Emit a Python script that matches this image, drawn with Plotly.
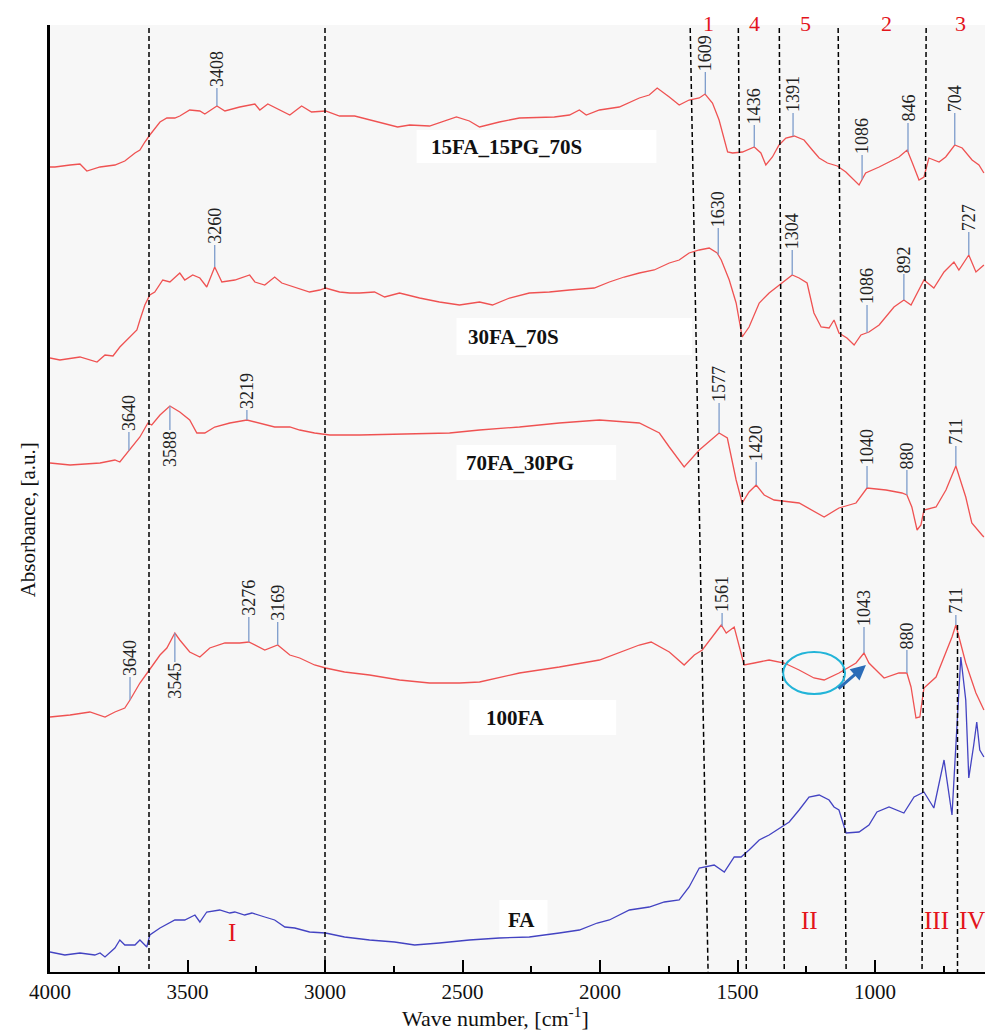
import numpy as np
import plotly.graph_objects as go

# ---------------- data (wavenumber, cm-1  /  absorbance, a.u. offset-stacked) ----------------
wn_15fa_15pg_70s = [4000,3982,3927,3891,3866,3818,3764,3728,3691,3673,3655,3637,3600,3575,3546,3528,3492,3455,3437,3393,
                    3364,3310,3255,3237,3208,3165,3128,3085,3049,2998,2947,2892,2838,2783,2736,2692,2620,2522,2475,2438,
                    2366,2293,2220,2166,2111,2075,2050,2002,1930,1857,1821,1792,1748,1712,1676,1639,1618,1591,1567,1549,
                    1536,1518,1482,1439,1415,1397,1373,1349,1324,1294,1258,1228,1203,1173,1137,1106,1058,1034,985,913,
                    883,864,840,822,804,767,743,710,683,647,622,604]
ab_15fa_15pg_70s = [805,805,807,808,801,805,807,811,819,822,830,837,850,854,854,856,862,861,858,866,
                    861,865,868,862,868,862,857,866,860,861,856,856,852,848,845,847,846,855,851,845,
                    850,854,855,855,857,862,857,862,865,874,877,884,875,867,872,874,878,869,852,832,
                    820,819,820,825,819,807,815,827,834,836,832,822,814,809,806,800,787,799,805,815,
                    822,809,792,795,814,810,815,827,824,812,807,799]

wn_30fa_70s = [4000,3964,3891,3829,3800,3771,3746,3709,3684,3673,3655,3637,3619,3590,3564,3528,3510,3481,3455,3430,
               3401,3375,3328,3274,3255,3219,3183,3157,3110,3056,3019,2998,2947,2910,2874,2820,2783,2729,2656,2584,
               2511,2438,2391,2329,2257,2184,2111,2021,1966,1912,1857,1803,1748,1712,1676,1639,1603,1574,1559,1530,
               1505,1483,1458,1421,1385,1349,1301,1276,1247,1222,1196,1167,1149,1131,1102,1076,1051,1022,985,931,
               895,869,822,786,749,713,695,659,633,604]
ab_30fa_70s = [614,612,615,610,617,616,625,635,642,652,667,677,680,692,690,699,692,697,694,685,
               705,690,692,697,690,687,695,689,685,680,682,684,680,679,679,680,675,679,674,670,
               667,670,667,674,679,680,682,684,690,695,699,702,709,712,719,722,724,719,712,692,
               669,635,645,669,679,687,697,694,689,659,645,644,652,639,634,627,637,640,647,665,
               672,667,692,684,700,710,702,717,700,707]

wn_70fa_30pg = [4000,3927,3818,3764,3746,3717,3673,3644,3630,3600,3564,3528,3492,3466,3437,3401,3346,3284,3237,3183,
                3128,3092,3038,2983,2874,2729,2547,2438,2293,2148,2002,1857,1784,1748,1694,1639,1567,1537,1505,1483,
                1458,1432,1403,1367,1276,1185,1131,1069,1029,960,902,884,866,847,833,822,778,742,706,670,
                648,611,604]
ab_70fa_30pg = [509,507,509,512,510,520,535,549,547,557,566,560,552,539,539,545,549,552,549,545,
                545,542,539,537,537,538,539,542,545,549,552,549,539,525,505,522,539,534,492,469,
                480,487,477,472,469,455,464,469,484,482,479,477,465,442,447,462,465,482,506,475,
                449,437,435]

wn_100fa = [4000,3927,3855,3800,3764,3728,3709,3673,3644,3600,3575,3546,3528,3492,3455,3419,3364,3310,3277,3219,
            3172,3128,3092,3038,2998,2929,2838,2729,2620,2511,2438,2293,2148,2002,1857,1814,1748,1694,1657,1628,
            1559,1541,1512,1476,1439,1385,1330,1276,1222,1185,1131,1094,1069,1040,1022,967,913,884,869,851,
            837,822,778,720,706,670,633,604]
ab_100fa = [255,257,260,255,260,264,272,289,300,317,324,339,332,320,315,324,329,329,330,322,
            327,317,314,307,304,300,297,292,289,289,290,299,305,312,327,330,320,307,317,322,
            347,339,345,307,309,312,309,302,294,292,299,305,309,319,309,294,299,299,285,254,
            255,284,295,335,347,309,279,262]

wn_fa = [4000,3946,3891,3837,3818,3800,3764,3746,3728,3691,3673,3648,3637,3600,3546,3510,3473,3455,3430,3383,
         3346,3328,3292,3266,3219,3183,3146,3110,3056,2998,2929,2838,2747,2674,2584,2475,2366,2257,2148,2075,
         2010,1966,1893,1821,1766,1712,1676,1639,1585,1548,1512,1487,1458,1421,1385,1356,1312,1276,1240,1203,
         1167,1149,1131,1105,1058,1022,993,949,895,858,822,786,749,720,695,688,670,659,641,630,
         619,604]
ab_fa = [20,17,19,17,19,15,24,32,27,27,32,25,37,44,52,52,57,50,60,62,
         59,60,57,59,55,52,45,44,40,39,35,32,30,27,29,32,34,35,39,42,
         49,52,62,65,70,72,85,104,107,100,115,115,122,132,137,142,150,162,175,177,
         172,165,162,139,140,147,160,165,159,175,180,164,212,157,272,315,272,194,227,250,
         222,215]

# peak labels: text, position (cm-1), label base level (a.u.)
peaks_15fa_15pg_70s = [("3408", 3393, 884), ("1609", 1617, 900), ("1436", 1439, 847), ("1391", 1298, 859),
                       ("1086", 1047, 817), ("846", 880, 849), ("704", 710, 859)]
peaks_30fa_70s = [("3260", 3401, 727), ("1630", 1570, 744), ("1304", 1301, 722), ("1086", 1029, 667),
                  ("892", 895, 698), ("727", 659, 740)]
peaks_70fa_30pg = [("3640", 3713, 540), ("3588", 3564, 542), ("3219", 3284, 562), ("1577", 1567, 569),
                   ("1420", 1432, 510), ("1040", 1029, 506), ("880", 884, 502), ("711", 706, 526)]
peaks_100fa = [("3640", 3709, 295), ("3545", 3546, 310), ("3276", 3277, 355), ("3169", 3172, 350),
               ("1561", 1556, 359), ("1043", 1040, 345), ("880", 884, 322), ("711", 706, 357)]

# band dividers (cm-1 at top / at bottom)
divider_top = [3640, 3000, 1672, 1497, 1348, 1134, 814]
divider_bottom = [3640, 3000, 1607, 1468, 1330, 1105, 829]
divider_iv = 700
divider_iv_top = 347

zone_numbers = ["1", "4", "5", "2", "3"]
zone_number_wn = [1607, 1439, 1251, 960, 688]
zone_roman = ["I", "II", "III", "IV"]
zone_roman_wn = [3339, 1240, 778, 648]
zone_roman_y = [40, 52, 52, 52]

series_names = ["15FA_15PG_70S", "30FA_70S", "70FA_30PG", "100FA", "FA"]
series_label_wn = [2620, 2482, 2491, 2420, 2337]
series_label_y = [825, 635, 509, 254, 52]
label_box_wn = [(2667, 1795), (2522, 1665), (2522, 1941), (2475, 1941), (2366, 2191)]
label_box_y = [(809, 842), (617, 654), (492, 527), (237, 272), (35, 72)]

# ---------------- figure ----------------
SERIF = "Liberation Serif, Times New Roman, serif"
RED = "#ef5252"
BLUE = "#4343c2"
STEM = "#7d9ccb"

fig = go.Figure()

shapes = []
annotations = []

# white label boxes (below traces)
for (xa, xb), (ya, yb) in zip(label_box_wn, label_box_y):
    shapes.append(dict(type="rect", xref="x", yref="y", x0=xa, x1=xb, y0=ya, y1=yb,
                       fillcolor="white", line=dict(width=0), layer="below"))

spectra = [(wn_15fa_15pg_70s, ab_15fa_15pg_70s, RED, peaks_15fa_15pg_70s),
           (wn_30fa_70s, ab_30fa_70s, RED, peaks_30fa_70s),
           (wn_70fa_30pg, ab_70fa_30pg, RED, peaks_70fa_30pg),
           (wn_100fa, ab_100fa, RED, peaks_100fa),
           (wn_fa, ab_fa, BLUE, [])]

for wn, ab, col, peaks in spectra:
    fig.add_trace(go.Scatter(x=wn, y=ab, mode="lines", line=dict(color=col, width=1.3),
                             hoverinfo="skip", showlegend=False))
    xs = np.array(wn[::-1], dtype=float)
    ys = np.array(ab[::-1], dtype=float)
    for txt, pw, base in peaks:
        yc = float(np.interp(pw, xs, ys))
        shapes.append(dict(type="line", xref="x", yref="y", x0=pw, x1=pw, y0=yc, y1=base,
                           line=dict(color=STEM, width=1.3)))
        annotations.append(dict(x=pw, y=base, xref="x", yref="y", text=txt, textangle=-90,
                                showarrow=False, xanchor="center",
                                yanchor="bottom" if base > yc else "top",
                                borderpad=0, font=dict(family=SERIF, size=18, color="#222222")))

# dashed dividers
for t, b in zip(divider_top, divider_bottom):
    shapes.append(dict(type="line", xref="x", yref="y", x0=t, x1=b, y0=944, y1=0,
                       line=dict(color="black", width=1.5, dash="5px,3px")))
shapes.append(dict(type="line", xref="x", yref="y", x0=divider_iv, x1=divider_iv, y0=divider_iv_top, y1=0,
                   line=dict(color="black", width=1.5, dash="5px,3px")))

# highlight ellipse and arrow
shapes.append(dict(type="circle", xref="x", yref="y", x0=1334, x1=1109, y0=278, y1=320,
                   line=dict(color="#22b4d8", width=2)))
annotations.append(dict(x=1033, y=307, ax=1138, ay=282, xref="x", yref="y", axref="x", ayref="y",
                        text="", showarrow=True, arrowhead=2, arrowsize=1, arrowwidth=3,
                        arrowcolor="#2b6cb8"))

# zone labels
for t, w in zip(zone_numbers, zone_number_wn):
    annotations.append(dict(x=w, y=1.0021, xref="x", yref="paper", text=t, showarrow=False,
                            yanchor="middle", font=dict(family=SERIF, size=22, color="#e3141b")))
for t, w, yy in zip(zone_roman, zone_roman_wn, zone_roman_y):
    annotations.append(dict(x=w, y=yy, xref="x", yref="y", text=t, showarrow=False,
                            yanchor="middle", font=dict(family=SERIF, size=25, color="#e3141b")))

# series labels
for name, w, yy in zip(series_names, series_label_wn, series_label_y):
    annotations.append(dict(x=w, y=yy, xref="x", yref="y", text="<b>" + name + "</b>", showarrow=False,
                            xanchor="left", yanchor="middle", borderpad=0,
                            font=dict(family=SERIF, size=21, color="#111111")))

# axis titles
annotations.append(dict(x=0.477, y=-0.0475, xref="paper", yref="paper",
                        text="Wave number, [cm<sup>-1</sup>]", showarrow=False,
                        xanchor="center", yanchor="middle", borderpad=0,
                        font=dict(family=SERIF, size=22, color="#111111")))
annotations.append(dict(x=-0.0235, y=0.477, xref="paper", yref="paper",
                        text="Absorbance, [a.u.]", showarrow=False, textangle=-90,
                        xanchor="center", yanchor="middle", borderpad=0,
                        font=dict(family=SERIF, size=21, color="#111111")))

fig.update_layout(
    width=985, height=1034,
    margin=dict(l=50, r=0, t=25, b=62),
    paper_bgcolor="white",
    plot_bgcolor="#f7f7f7",
    shapes=shapes,
    annotations=annotations,
    showlegend=False,
    xaxis=dict(range=[4000, 600], tick0=0, dtick=500, ticks="inside", ticklen=12, tickwidth=2,
               tickcolor="black", showline=True, linecolor="black", linewidth=2,
               showgrid=False, zeroline=False,
               tickfont=dict(family=SERIF, size=21, color="#111111"),
               minor=dict(ticks="inside", ticklen=6, tickwidth=2, dtick=250, tickcolor="black",
                          showgrid=False)),
    yaxis=dict(range=[0, 947], showline=True, linecolor="black", linewidth=3,
               ticks="", showticklabels=False, showgrid=False, zeroline=False),
)

fig.write_html("out.html")
